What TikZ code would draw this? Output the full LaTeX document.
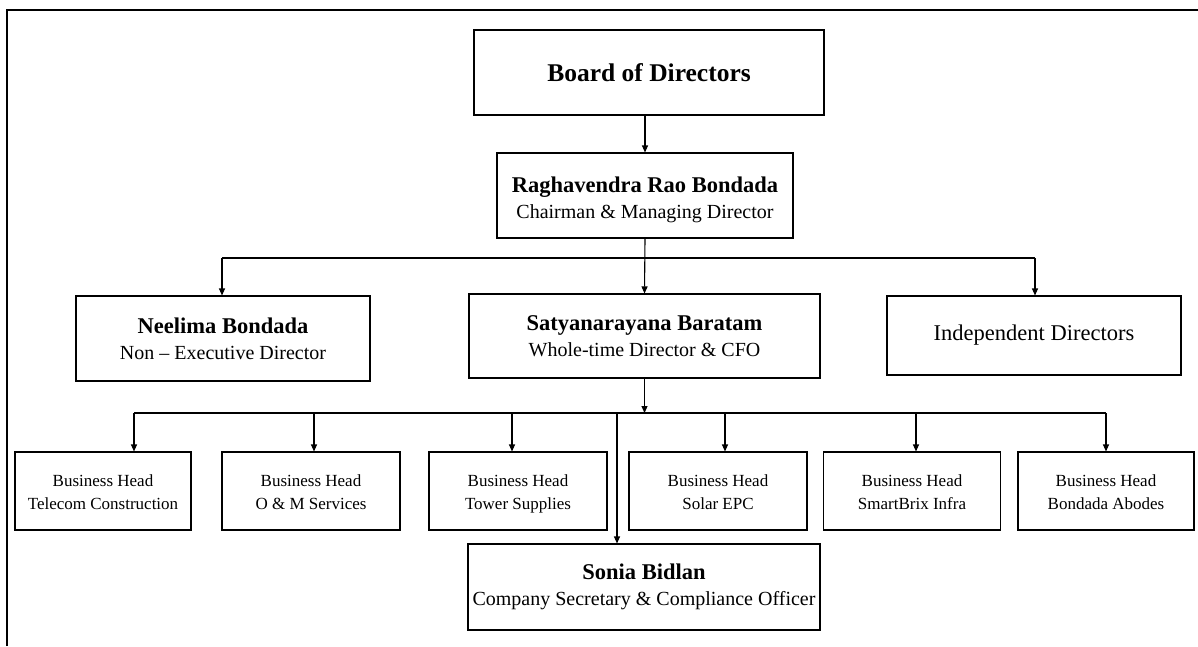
\documentclass[tikz,border=0pt]{standalone}
\usepackage{fontspec}
\setmainfont{Liberation Serif}
\usetikzlibrary{arrows.meta}

\newcommand{\pname}[1]{{\fontsize{22.5}{27}\selectfont\bfseries #1}}
\newcommand{\bhead}[1]{\rule{0pt}{20pt}Business Head\\#1\strut}

\begin{document}
\begin{tikzpicture}[x=1pt, y=-1pt, line width=1.1pt,
  box/.style={draw, inner sep=0pt, align=center, font=\fontsize{20}{26}\selectfont},
  headbox/.style={box, minimum width=177pt, minimum height=78pt, font=\fontsize{17}{23}\selectfont},
  arr/.style={-{Triangle[length=7pt, width=6pt]}}]
  \useasboundingbox (0,0) rectangle (1198,646);
  \draw[line width=2pt] (7,646) -- (7,10) -- (1198,10);

  \node[box, minimum width=350pt, minimum height=85pt] (bod) at (649,72.5)
    {\fontsize{25.5}{30}\selectfont\bfseries Board of Directors};
  \node[box, minimum width=296pt, minimum height=85pt] (rrb) at (645,195.5)
    {\rule{0pt}{24pt}\pname{Raghavendra Rao Bondada}\\Chairman \& Managing Director};

  \node[box, minimum width=294pt, minimum height=85pt] (nb) at (223,338.5)
    {\pname{Neelima Bondada}\\Non -- Executive Director};
  \node[box, minimum width=351pt, minimum height=84pt] (sb) at (644.5,336)
    {\pname{Satyanarayana Baratam}\\Whole-time Director \& CFO};
  \node[box, minimum width=294pt, minimum height=79pt, font=\fontsize{22.5}{27}\selectfont] (ind) at (1034,335.5)
    {Independent Directors};

  \node[headbox, minimum width=176pt] (bh1) at (103,491) {\bhead{Telecom Construction}};
  \node[headbox, minimum width=178pt] (bh2) at (311,491) {\bhead{O \& M Services}};
  \node[headbox, minimum width=178pt] (bh3) at (518,491) {\bhead{Tower Supplies}};
  \node[headbox, minimum width=178pt] (bh4) at (718,491) {\bhead{Solar EPC}};
  \node[headbox] (bh5) at (912,491) {\bhead{SmartBrix Infra}};
  \node[headbox, minimum width=176pt] (bh6) at (1106,491) {\bhead{Bondada Abodes}};

  \node[box, minimum width=352pt, minimum height=86pt] (sbd) at (644,587)
    {\pname{Sonia Bidlan}\\Company Secretary \& Compliance Officer};

  % board and chairman
  \draw[arr] (rrb.north |- bod.south) -- (rrb.north);
  \draw[arr] (rrb.south) -- (sb.north);
  \coordinate (upL) at (222,258);
  \coordinate (upR) at (1035,258);
  \draw (upL) -- (upR);
  \draw[arr] (upL) -- (upL |- nb.north);
  \draw[arr] (upR) -- (upR |- ind.north);

  % business heads
  \coordinate (lowL) at (134,413);
  \coordinate (lowR) at (1106,413);
  \draw[arr] (sb.south) -- (sb.south |- lowL);
  \draw (lowL) -- (lowR);
  \foreach \x/\n in {134/bh1, 314/bh2, 512/bh3, 725/bh4, 916/bh5, 1106/bh6}{
    \coordinate (t\n) at (\x,413);
    \draw[arr] (t\n) -- (t\n |- \n.north);
  }
  \coordinate (lowS) at (617,413);
  \draw[arr] (lowS) -- (lowS |- sbd.north);
\end{tikzpicture}
\end{document}
